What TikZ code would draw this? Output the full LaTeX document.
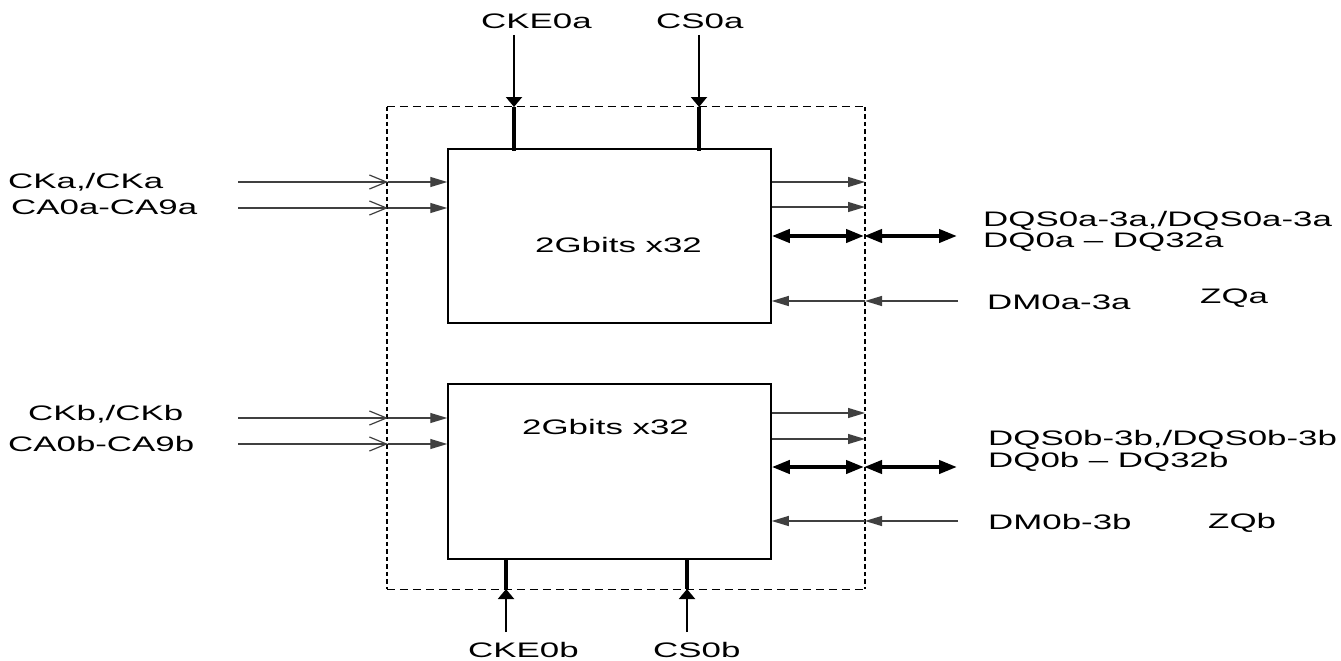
\documentclass[tikz,border=0pt]{standalone}
\usepackage{fontspec}
\setmainfont{Liberation Sans}
\usetikzlibrary{arrows.meta}
\newcommand{\wtxt}[1]{\scalebox{1.66}[1]{#1}}
\begin{document}
\begin{tikzpicture}[x=1pt,y=-1pt,
  lbl/.style={inner sep=0pt, anchor=base west, font=\fontsize{21}{24}\selectfont},
  chip/.style={draw, line width=1.5pt, minimum width=323pt, minimum height=174pt, inner sep=0pt},
  thinline/.style={line width=1.2pt, draw=black!75},
  inhead/.style={thinline, -{Triangle[length=17pt,width=10pt]}},
  openhead/.style={thinline, -{Straight Barb[length=17pt,width=14pt,line width=1.2pt]}},
  bus/.style={line width=4pt, {Triangle[length=18pt,width=13pt]}-{Triangle[length=18pt,width=13pt]}},
  vin/.style={line width=2pt, -{Triangle[length=10pt,width=16pt]}},
  vthick/.style={line width=4pt},
  hdash/.style={line width=1.3pt, dash pattern=on 8pt off 5pt},
  vdash/.style={line width=2pt, dash pattern=on 4.5pt off 3pt},
]
\useasboundingbox (0,0) rectangle (1341,661);
\fill[white] (0,0) rectangle (1341,661);

% package outline
\node[minimum width=478pt, minimum height=482pt, inner sep=0pt] (pkg) at (626,348) {};
\draw[hdash] (pkg.north west) -- (pkg.north east);
\draw[hdash] (pkg.south west) -- (pkg.south east);
\draw[vdash] (pkg.north west) -- (pkg.south west);
\draw[vdash] (pkg.north east) -- (pkg.south east);

% chips
\node[chip] (chipA) at (609.5,236) {};
\node[chip, minimum height=175pt] (chipB) at (609.5,471.5) {};
\node[lbl] (tA) at (535,252) {\wtxt{2Gbits x32}};
\node[lbl] (tB) at (522,434) {\wtxt{2Gbits x32}};

% labels
\node[lbl] (lCKEa) at (481,29) {\wtxt{CKE0a}};
\node[lbl] (lCSa) at (656,29) {\wtxt{CS0a}};
\node[lbl] (lCKa) at (8,188) {\wtxt{CKa,/CKa}};
\node[lbl] (lCAa) at (11,214) {\wtxt{CA0a-CA9a}};
\node[lbl] (lCKb) at (28,420) {\wtxt{CKb,/CKb}};
\node[lbl] (lCAb) at (8,451) {\wtxt{CA0b-CA9b}};
\node[lbl] (lDQSa) at (983,226.5) {\wtxt{DQS0a-3a,/DQS0a-3a}};
\node[lbl] (lDQa) at (983,247) {\wtxt{DQ0a -- DQ32a}};
\node[lbl] (lDMa) at (987,309) {\wtxt{DM0a-3a}};
\node[lbl] (lZQa) at (1200,303) {\wtxt{ZQa}};
\node[lbl] (lDQSb) at (988,445) {\wtxt{DQS0b-3b,/DQS0b-3b}};
\node[lbl] (lDQb) at (988,467) {\wtxt{DQ0b -- DQ32b}};
\node[lbl] (lDMb) at (988,529) {\wtxt{DM0b-3b}};
\node[lbl] (lZQb) at (1208,528) {\wtxt{ZQb}};
\node[lbl] (lCKEb) at (468,657) {\wtxt{CKE0b}};
\node[lbl] (lCSb) at (653,657) {\wtxt{CS0b}};

% left inputs, chip A
\coordinate (ckaS) at (238,182); \coordinate (ckaD) at (388,182);
\draw[openhead] (ckaS) -- (ckaD);
\draw[inhead] (ckaD) -- (ckaD -| chipA.west);
\coordinate (caaS) at (238,208); \coordinate (caaD) at (388,208);
\draw[openhead] (caaS) -- (caaD);
\draw[inhead] (caaD) -- (caaD -| chipA.west);
% left inputs, chip B
\coordinate (ckbS) at (238,418); \coordinate (ckbD) at (388,418);
\draw[openhead] (ckbS) -- (ckbD);
\draw[inhead] (ckbD) -- (ckbD -| chipB.west);
\coordinate (cabS) at (238,444); \coordinate (cabD) at (388,444);
\draw[openhead] (cabS) -- (cabD);
\draw[inhead] (cabD) -- (cabD -| chipB.west);

% right side, chip A
\coordinate (oA1) at (865,182); \draw[inhead] (chipA.east |- oA1) -- (oA1);
\coordinate (oA2) at (865,207); \draw[inhead] (chipA.east |- oA2) -- (oA2);
\coordinate (bA) at (864,236); \coordinate (bAe) at (957,236);
\draw[bus] (chipA.east |- bA) -- (bA);
\draw[bus] (bA) -- (bAe);
\coordinate (dmA) at (865,301); \coordinate (dmAs) at (958,301);
\draw[inhead] (dmAs) -- (dmA);
\draw[inhead] (dmA) -- (dmA -| chipA.east);
% right side, chip B
\coordinate (oB1) at (865,413); \draw[inhead] (chipB.east |- oB1) -- (oB1);
\coordinate (oB2) at (865,439); \draw[inhead] (chipB.east |- oB2) -- (oB2);
\coordinate (bB) at (864,467); \coordinate (bBe) at (957,467);
\draw[bus] (chipB.east |- bB) -- (bB);
\draw[bus] (bB) -- (bBe);
\coordinate (dmB) at (865,521); \coordinate (dmBs) at (958,521);
\draw[inhead] (dmBs) -- (dmB);
\draw[inhead] (dmB) -- (dmB -| chipB.east);

% top inputs
\coordinate (ckeAs) at (514,35); \coordinate (ckeAd) at (514,107);
\draw[vin] (ckeAs) -- (ckeAd);
\draw[vthick] (ckeAd) -- ([yshift=-3pt]ckeAd |- chipA.north);
\coordinate (csAs) at (699,35); \coordinate (csAd) at (699,107);
\draw[vin] (csAs) -- (csAd);
\draw[vthick] (csAd) -- ([yshift=-3pt]csAd |- chipA.north);

% bottom inputs
\coordinate (ckeBs) at (506,632); \coordinate (ckeBd) at (506,589);
\draw[vin] (ckeBs) -- (ckeBd);
\draw[vthick] (ckeBd) -- (ckeBd |- chipB.south);
\coordinate (csBs) at (687,632); \coordinate (csBd) at (687,589);
\draw[vin] (csBs) -- (csBd);
\draw[vthick] (csBd) -- (csBd |- chipB.south);
\end{tikzpicture}
\end{document}
